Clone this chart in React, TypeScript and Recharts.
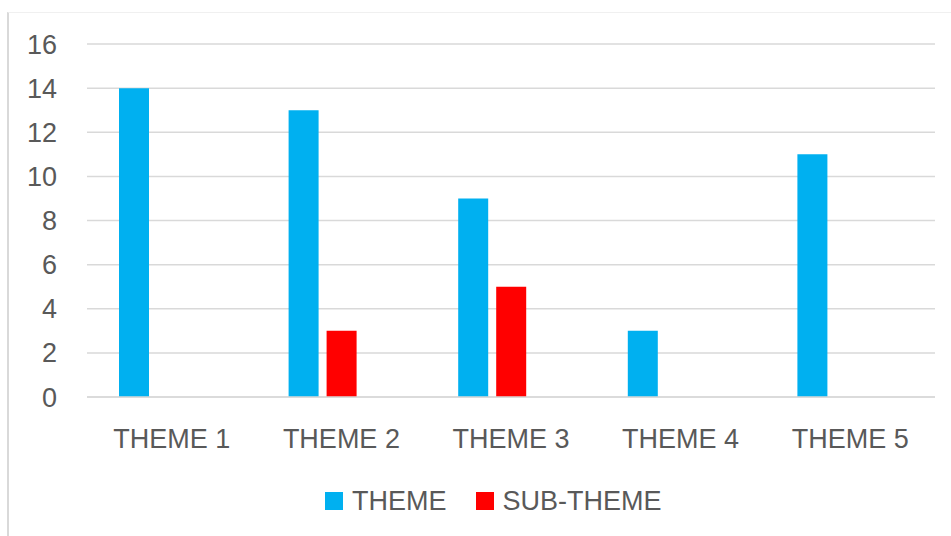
import React from 'react';
import { BarChart, Bar, XAxis, YAxis, CartesianGrid, Legend } from 'recharts';

const themes = ['THEME 1', 'THEME 2', 'THEME 3', 'THEME 4', 'THEME 5'];
const themeCounts = [14, 13, 9, 3, 11];
const subThemeCounts = [0, 3, 5, 0, 0];
// empty third slot the group is laid out with (not listed in the legend)
const otherCounts = [null, null, null, null, null];
const yTicks = [0, 2, 4, 6, 8, 10, 12, 14, 16];
const legendOrder = ['THEME', 'SUB-THEME'];

const data = themes.map((name, i) => ({
  name,
  THEME: themeCounts[i],
  'SUB-THEME': subThemeCounts[i],
  OTHER: otherCounts[i],
}));

const FONT = '"Liberation Sans", Arial, sans-serif';
const TEXT = '#595959';
const GRID = '#d9d9d9';

const renderLegend = (props: any) => {
  const items = (props.payload || [])
    .filter((p: any) => p.type !== 'none')
    .sort((a: any, b: any) => legendOrder.indexOf(a.value) - legendOrder.indexOf(b.value));
  return (
    <div style={{ display: 'flex', alignItems: 'center', height: 30, fontFamily: FONT, fontSize: 27, color: TEXT }}>
      {items.map((item: any, i: number) => (
        <div key={item.value} style={{ display: 'flex', alignItems: 'center', marginRight: i < items.length - 1 ? 29 : 0 }}>
          <span style={{ display: 'inline-block', width: 18, height: 18, background: item.color, marginRight: 9 }} />
          <span>{item.value}</span>
        </div>
      ))}
    </div>
  );
};

export default function App() {
  return (
    <div style={{ position: 'absolute', left: 0, top: 0, width: 951, height: 536, background: '#fff' }}>
      <div
        style={{
          position: 'absolute',
          left: 7,
          top: 12,
          width: 944,
          height: 524,
          borderLeft: `2px solid ${GRID}`,
          borderTop: '1px solid #f0f0f0',
          boxSizing: 'border-box',
        }}
      />
      <div style={{ position: 'absolute', left: 0, top: 0 }}>
        <BarChart
          width={951}
          height={536}
          data={data}
          barSize={30}
          barGap={8}
          margin={{ top: 44, right: 16, left: 0, bottom: 20 }}
        >
          <CartesianGrid vertical={false} stroke={GRID} strokeWidth={1.5} />
          <XAxis
            dataKey="name"
            height={89}
            axisLine={{ stroke: GRID, strokeWidth: 1.5 }}
            tickLine={false}
            tickSize={0}
            tickMargin={32}
            tick={{ fill: TEXT, fontSize: 27, fontFamily: FONT }}
          />
          <YAxis
            width={87}
            domain={[0, 16]}
            ticks={yTicks}
            axisLine={false}
            tickLine={false}
            tickSize={0}
            tickMargin={30}
            tick={{ fill: TEXT, fontSize: 27, fontFamily: FONT }}
          />
          <Legend
            verticalAlign="bottom"
            content={renderLegend}
            wrapperStyle={{ left: 325, width: 'auto' }}
          />
          <Bar dataKey="THEME" fill="#00B0F0" isAnimationActive={false} />
          <Bar dataKey="SUB-THEME" fill="#FF0000" isAnimationActive={false} />
          <Bar dataKey="OTHER" fill="#A5A5A5" legendType="none" isAnimationActive={false} />
        </BarChart>
      </div>
    </div>
  );
}
